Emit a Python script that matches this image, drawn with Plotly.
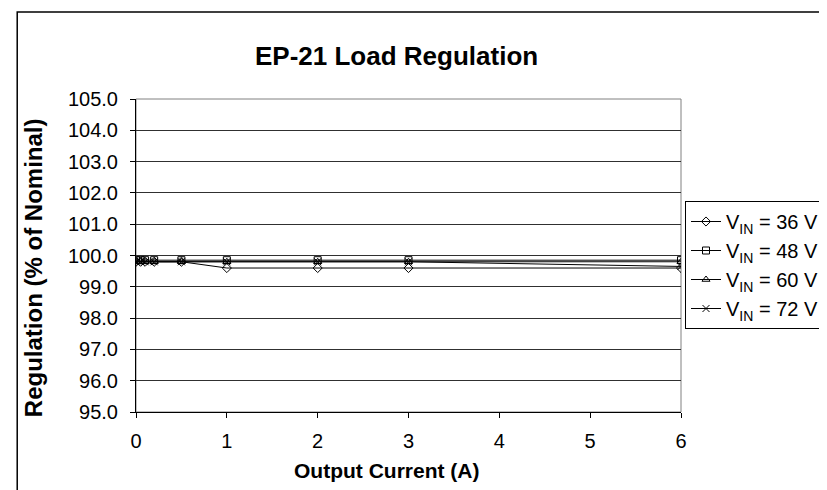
import plotly.graph_objects as go

current = [0, 0.05, 0.1, 0.2, 0.5, 1, 2, 3, 6]
v36 = [99.8, 99.8, 99.8, 99.8, 99.8, 99.6, 99.6, 99.6, 99.6]
v48 = [99.85, 99.85, 99.85, 99.85, 99.85, 99.85, 99.85, 99.85, 99.85]
v60 = [99.8, 99.8, 99.8, 99.8, 99.8, 99.8, 99.8, 99.8, 99.8]
v72 = [99.8, 99.8, 99.8, 99.8, 99.8, 99.8, 99.8, 99.8, 99.65]
names = ["V<sub>IN</sub> = 36 V", "V<sub>IN</sub> = 48 V", "V<sub>IN</sub> = 60 V", "V<sub>IN</sub> = 72 V"]
symbols = ["diamond-open", "square-open", "triangle-up-open", "x-thin-open"]
x_ticks = [0, 1, 2, 3, 4, 5, 6]
y_ticks = [95, 96, 97, 98, 99, 100, 101, 102, 103, 104, 105]

FONT = "Liberation Sans, Arial, sans-serif"
fig = go.Figure()
for vals, name, sym in zip([v36, v48, v60, v72], names, symbols):
    fig.add_trace(go.Scatter(
        x=current, y=vals, name=name, mode="lines+markers",
        line=dict(color="black", width=1),
        marker=dict(symbol=sym, size=7, color="black", line=dict(color="black", width=1)),
    ))

L, R, T, B = 128, 674, 91, 404
W, H = 827, 490
pw, ph = R - L, B - T
def px(x):
    return (x - L) / pw
def py(y):
    return (B - y) / ph

fig.update_layout(
    width=W, height=H,
    margin=dict(l=L, r=W - R, t=T, b=H - B, pad=0),
    paper_bgcolor="white", plot_bgcolor="white",
    font=dict(family=FONT, size=20, color="black"),
    showlegend=True,
    legend=dict(
        x=px(677), y=py(193), xanchor="left", yanchor="top",
        bgcolor="white", bordercolor="black", borderwidth=1,
        font=dict(family=FONT, size=20, color="black"),
        tracegroupgap=0,
    ),
    xaxis=dict(
        range=[0, 6], tickvals=x_ticks, ticktext=[str(v) for v in x_ticks],
        showgrid=False, zeroline=False,
        showline=True, linecolor="black", linewidth=1,
        ticks="outside", ticklen=5, tickcolor="black",
        ticklabelstandoff=6,
        tickfont=dict(size=20),
    ),
    yaxis=dict(
        range=[95, 105], tickvals=y_ticks, ticktext=[f"{v:.1f}" for v in y_ticks],
        showgrid=True, gridcolor="#303030", gridwidth=1, zeroline=False,
        showline=True, linecolor="black", linewidth=1,
        ticks="outside", ticklen=5, tickcolor="black",
        ticklabelstandoff=8,
        tickfont=dict(size=20),
    ),
    shapes=[
        dict(type="rect", xref="paper", yref="paper", x0=0, x1=1, y0=0, y1=1,
             line=dict(color="#808080", width=1), layer="below"),
        dict(type="rect", xref="paper", yref="paper",
             x0=px(9), x1=px(820), y0=py(487), y1=py(4),
             line=dict(color="black", width=1.5)),
    ],
    annotations=[
        dict(text="<b>EP-21 Load Regulation</b>", xref="paper", yref="paper",
             x=px(389), y=py(48), showarrow=False, xanchor="center", yanchor="middle",
             font=dict(family=FONT, size=26, color="black")),
        dict(text="<b>Output Current (A)</b>", xref="paper", yref="paper",
             x=px(379), y=py(463), showarrow=False, xanchor="center", yanchor="middle",
             font=dict(family=FONT, size=21, color="black")),
        dict(text="<b>Regulation (% of Nominal)</b>", xref="paper", yref="paper",
             x=px(25), y=py(260), showarrow=False, xanchor="center", yanchor="middle",
             textangle=-90, font=dict(family=FONT, size=24, color="black")),
    ],
)

fig.write_html("out.html")
